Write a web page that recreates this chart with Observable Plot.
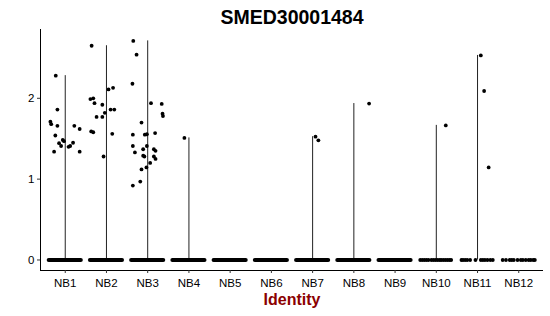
<!DOCTYPE html>
<html>
<head>
<meta charset="utf-8">
<script src="https://cdn.jsdelivr.net/npm/d3@7"></script>
<script src="https://cdn.jsdelivr.net/npm/@observablehq/plot@0.6"></script>
<style>
  html, body { margin: 0; padding: 0; background: #fff; }
</style>
</head>
<body>
<div id="chart"></div>
<script>
// ---------- data ----------
const title = "SMED30001484";
const xLabel = "Identity";
const categories = ["NB1","NB2","NB3","NB4","NB5","NB6","NB7","NB8","NB9","NB10","NB11","NB12"];
const yTicks = [0, 1, 2];

// non-zero expression values per identity and their horizontal jitter (in category units)
const nb1Values = [2.28,1.86,1.71,1.68,1.66,1.66,1.62,1.54,1.485,1.47,1.445,1.41,1.40,1.41,1.45,1.34,1.34];
const nb1Jitter = [-0.23,-0.19,-0.36,-0.34,-0.19,0.22,0.35,-0.24,-0.06,-0.03,-0.15,-0.10,0.08,0.12,0.19,-0.27,0.35];
const nb2Values = [2.65,2.11,2.13,1.99,2.00,1.94,1.92,1.86,1.86,1.82,1.77,1.77,1.59,1.58,1.56,1.28];
const nb2Jitter = [-0.36,0.05,0.16,-0.39,-0.32,-0.29,-0.10,0.10,0.19,-0.04,-0.24,-0.10,-0.37,-0.32,0.14,-0.07];
const nb3Values = [2.71,2.54,2.18,1.94,1.93,1.81,1.78,1.70,1.55,1.55,1.555,1.57,1.41,1.41,1.37,1.37,1.35,1.33,1.29,1.28,1.28,1.25,1.20,1.145,1.12,0.97,0.92];
const nb3Jitter = [-0.35,-0.27,-0.37,0.08,0.34,0.36,0.37,-0.15,-0.36,-0.07,-0.02,0.18,-0.36,-0.02,-0.11,0.15,0.19,-0.31,-0.11,-0.08,0.15,0.19,0.06,-0.03,-0.15,-0.18,-0.36];
const nb4Values = [1.51];
const nb4Jitter = [-0.11];
const nb7Values = [1.525,1.48];
const nb7Jitter = [0.07,0.14];
const nb8Values = [1.935];
const nb8Jitter = [0.37];
const nb10Values = [1.665];
const nb10Jitter = [0.23];
const nb11Values = [2.53,2.09,1.145];
const nb11Jitter = [0.08,0.16,0.27];

// identities whose zero-valued cells are so many they form a solid band
const denseZeroGroups = ["NB1","NB2","NB3","NB4","NB5","NB6","NB7","NB8","NB9"];
// jitter of the few zero-valued cells in the sparse identities
const nb10ZeroJitter = [-0.39,-0.34,-0.29,-0.24,-0.19,-0.12,-0.07,-0.02,0.03,0.08,0.12,0.17,0.22,0.27,0.32,0.36];
const nb11ZeroJitter = [-0.39,-0.35,-0.30,-0.25,-0.18,-0.05,0.08,0.13,0.18,0.24,0.31,0.37];
const nb12ZeroJitter = [-0.39,-0.31,-0.22,-0.17,-0.12,-0.03,0.05,0.10,0.17,0.24,0.29,0.35,0.39];

// ---------- build tables ----------
const nonZero = [
  ["NB1", nb1Values, nb1Jitter], ["NB2", nb2Values, nb2Jitter], ["NB3", nb3Values, nb3Jitter],
  ["NB4", nb4Values, nb4Jitter], ["NB7", nb7Values, nb7Jitter], ["NB8", nb8Values, nb8Jitter],
  ["NB10", nb10Values, nb10Jitter], ["NB11", nb11Values, nb11Jitter]
];
const idx = c => categories.indexOf(c) + 1;
const points = [];
for (const [cat, vals, jit] of nonZero) {
  vals.forEach((v, i) => points.push({cat, x: idx(cat) + jit[i], value: v}));
}
for (const [cat, jit] of [["NB10", nb10ZeroJitter], ["NB11", nb11ZeroJitter], ["NB12", nb12ZeroJitter]]) {
  jit.forEach(j => points.push({cat, x: idx(cat) + j, value: 0}));
}
const violins = nonZero.map(([cat, vals]) => ({x: idx(cat), max: d3.max(vals)}));
const bands = denseZeroGroups.map(cat => ({x: idx(cat)}));

const n = categories.length;
const xDomain = [1 - 0.6, n + 0.6];
const yMax = d3.max(points, d => d.value);
const yDomain = [-0.048 * yMax, yMax * 1.052];
const half = 0.39;

const chart = Plot.plot({
  width: 550,
  height: 316,
  marginLeft: 40,
  marginRight: 7,
  marginTop: 29,
  marginBottom: 46,
  style: {fontFamily: "'Liberation Sans', Arial, Helvetica, sans-serif", color: "#000", background: "#fff"},
  x: {type: "linear", domain: xDomain},
  y: {domain: yDomain},
  marks: [
    Plot.ruleX(violins, {x: "x", y1: 0, y2: "max", stroke: "#222", strokeWidth: 1}),
    Plot.ruleY(bands, {y: 0, x1: d => d.x - half, x2: d => d.x + half, stroke: "#000", strokeWidth: 4, strokeLinecap: "round"}),
    Plot.dot(points, {x: "x", y: "value", r: 1.9, fill: "#000", stroke: "none"}),
    Plot.ruleX([xDomain[0]], {stroke: "#000", strokeWidth: 1}),
    Plot.ruleY([yDomain[0]], {stroke: "#000", strokeWidth: 1}),
    Plot.axisX({ticks: categories.map((c, i) => i + 1), tickFormat: d => categories[d - 1], tickSize: 3, tickPadding: 5, fontSize: 11.5, label: null, stroke: "#333"}),
    Plot.axisY({ticks: yTicks, tickFormat: d => String(d), tickSize: 3, tickPadding: 3, fontSize: 11.5, label: null, stroke: "#333"}),
    Plot.text([title], {frameAnchor: "top", lineAnchor: "bottom", dy: -6, fontSize: 19.5, fontWeight: "bold", fill: "#000"}),
    Plot.text([xLabel], {frameAnchor: "bottom", lineAnchor: "bottom", dy: 34, fontSize: 16, fontWeight: "bold", fill: "#8B0000"})
  ]
});
document.getElementById("chart").appendChild(chart);
</script>
</body>
</html>
